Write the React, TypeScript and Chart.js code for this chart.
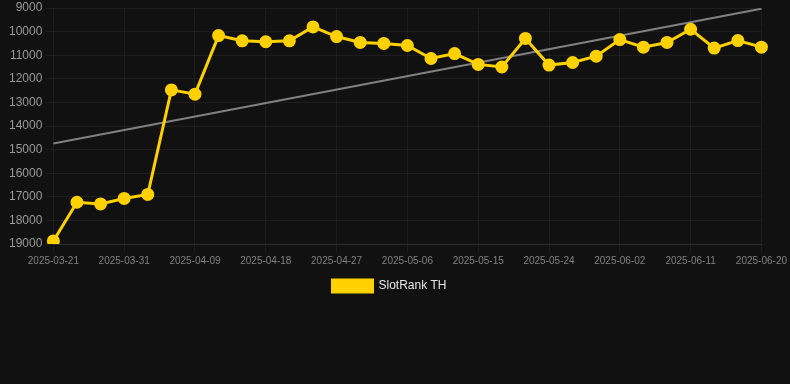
import React, { useEffect, useRef } from "react";
import { Chart, registerables } from "chart.js";

Chart.register(...registerables);

const labels = [
  "2025-03-21", "2025-03-24", "2025-03-28", "2025-03-31", "2025-04-03", "2025-04-06",
  "2025-04-09", "2025-04-12", "2025-04-15", "2025-04-18", "2025-04-21", "2025-04-24",
  "2025-04-27", "2025-04-30", "2025-05-03", "2025-05-06", "2025-05-09", "2025-05-12",
  "2025-05-15", "2025-05-18", "2025-05-21", "2025-05-24", "2025-05-27", "2025-05-30",
  "2025-06-02", "2025-06-05", "2025-06-08", "2025-06-11", "2025-06-14", "2025-06-17",
  "2025-06-20",
];

const rankValues = [
  18870, 17230, 17300, 17070, 16900, 12470, 12650, 10170, 10390, 10430, 10390, 9800,
  10210, 10460, 10500, 10590, 11140, 10930, 11390, 11500, 10290, 11420, 11310, 11040,
  10340, 10660, 10460, 9900, 10700, 10380, 10660,
];

const trendValues: (number | null)[] = labels.map(() => null);
trendValues[0] = 14740;
trendValues[labels.length - 1] = 9030;

const yTicks = { min: 9000, max: 19000, step: 1000 };

export default function App() {
  const ref = useRef<HTMLCanvasElement | null>(null);

  useEffect(() => {
    document.body.style.margin = "0";
    document.body.style.background = "#111111";
    const canvas = ref.current;
    if (!canvas) return;
    const chart = new Chart(canvas, {
      type: "line",
      data: {
        labels,
        datasets: [
          {
            label: "SlotRank TH",
            data: rankValues,
            borderColor: "#FFD100",
            backgroundColor: "#FFD100",
            borderWidth: 3,
            pointRadius: 5,
            pointHoverRadius: 5,
            pointBackgroundColor: "#FFD100",
            pointBorderColor: "#FFD100",
            tension: 0,
          },
          {
            label: "trend",
            data: trendValues,
            borderColor: "#808080",
            backgroundColor: "#808080",
            borderWidth: 2,
            pointRadius: 0,
            spanGaps: true,
          },
        ],
      },
      options: {
        animation: false,
        responsive: false,
        maintainAspectRatio: false,
        layout: { padding: { left: 6, right: 17, top: 0, bottom: 0 } },
        plugins: {
          legend: {
            position: "bottom",
            labels: {
              color: "#e6e6e6",
              font: { family: "'Liberation Sans', Arial, sans-serif", size: 12 },
              boxWidth: 40,
              boxHeight: 12,
              filter: (item) => item.text === "SlotRank TH",
            },
          },
          tooltip: { enabled: false },
        },
        scales: {
          x: {
            grid: { color: "rgba(255,255,255,0.05)" },
            border: { color: "rgba(255,255,255,0.08)" },
            ticks: {
              autoSkip: true,
              maxTicksLimit: 11,
              maxRotation: 0,
              color: "#808080",
              font: { family: "'Liberation Sans', Arial, sans-serif", size: 10 },
            },
          },
          y: {
            reverse: true,
            min: yTicks.min,
            max: yTicks.max,
            grid: { color: "rgba(255,255,255,0.05)" },
            border: { display: false },
            afterFit: (s: any) => {
              s.paddingTop = 6;
            },
            ticks: {
              stepSize: yTicks.step,
              color: "#999999",
              font: { family: "'Liberation Sans', Arial, sans-serif", size: 12 },
              callback: (v) => String(v),
            },
          },
        },
      },
    });
    return () => chart.destroy();
  }, []);

  return (
    <div style={{ width: 790, height: 384, background: "#111111" }}>
      <canvas ref={ref} width={790} height={302} style={{ display: "block" }} />
    </div>
  );
}
